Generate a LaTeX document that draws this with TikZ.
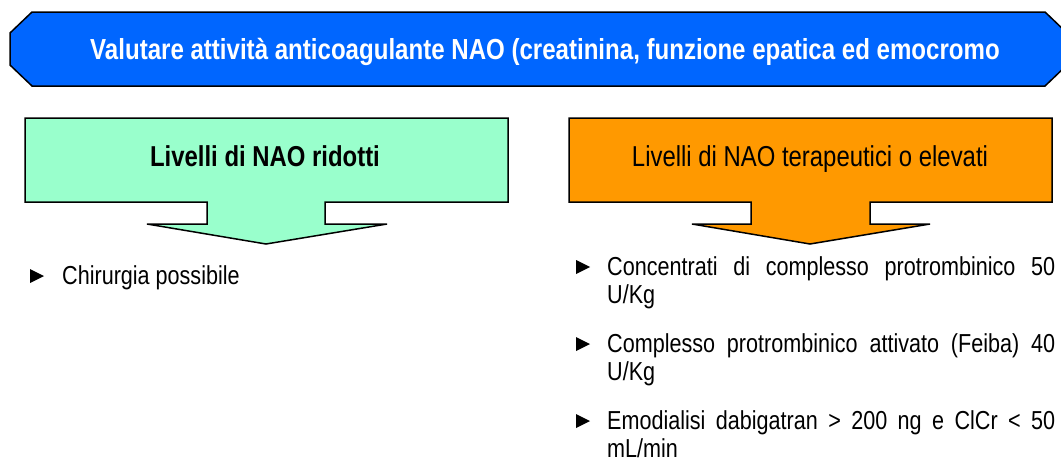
\documentclass[tikz,border=0pt]{standalone}
\usepackage{fontspec}
\setmainfont{Liberation Sans}[FakeStretch=0.83]
\definecolor{bannerblue}{RGB}{0,102,255}
\definecolor{mint}{RGB}{153,255,204}
\definecolor{amber}{RGB}{255,153,0}
\tikzset{
  outline/.style={draw=black, line width=1.5pt, line join=miter},
  bodytext/.style={anchor=base west, inner sep=0pt, font=\fontsize{26}{30}\selectfont},
  headtext/.style={anchor=base, inner sep=0pt, font=\fontsize{28.8}{33}\selectfont},
  bulletmark/.style={fill=black}
}
\begin{document}
\begin{tikzpicture}[x=1pt,y=-1pt]
\clip (0,0) rectangle (1061,463);
\fill[white] (0,0) rectangle (1061,463);
% banner
\draw[outline, fill=bannerblue] (32,12) -- (1045,12) -- (1067,33) -- (1067,65) -- (1045,86) -- (32,86) -- (10,65) -- (10,33) -- cycle;
\node[headtext, text=white, font=\fontsize{29}{33}\selectfont\bfseries] (banner) at (545,59.5) {Valutare attività anticoagulante NAO (creatinina, funzione epatica ed emocromo};
% green callout
\draw[outline, fill=mint] (25,118) -- (508,118) -- (508,202) -- (325,202) -- (325,224) -- (387,224) -- (266,244) -- (147,224) -- (207,224) -- (207,202) -- (25,202) -- cycle;
\node[headtext, font=\fontsize{28.8}{33}\selectfont\bfseries] (low) at (265,166) {Livelli di NAO ridotti};
% orange callout
\draw[outline, fill=amber] (569,118) -- (1052,118) -- (1052,202) -- (870,202) -- (870,224) -- (930,224) -- (810,244) -- (692,224) -- (751,224) -- (751,202) -- (569,202) -- cycle;
\node[headtext] (high) at (810,166.5) {Livelli di NAO terapeutici o elevati};
% left bullet
\fill[bulletmark] (30,269) -- (44,276) -- (30,283) -- cycle;
\node[bodytext] (surg) at (62,284) {Chirurgia possibile};
% right bullets
\fill[bulletmark] (576,260) -- (590,267) -- (576,274) -- cycle;
\node[bodytext] (pcc1) at (607,275) {\makebox[448pt][s]{Concentrati di complesso protrombinico 50}};
\node[bodytext] (pcc2) at (607,303) {U/Kg};
\fill[bulletmark] (576,337) -- (590,344) -- (576,351) -- cycle;
\node[bodytext] (feiba1) at (607,352) {\makebox[448pt][s]{Complesso protrombinico attivato (Feiba) 40}};
\node[bodytext] (feiba2) at (607,380) {U/Kg};
\fill[bulletmark] (576,414) -- (590,421) -- (576,428) -- cycle;
\node[bodytext] (dial1) at (607,429) {\makebox[448pt][s]{Emodialisi dabigatran > 200 ng e ClCr < 50}};
\node[bodytext] (dial2) at (607,457) {mL/min};
\end{tikzpicture}
\end{document}
